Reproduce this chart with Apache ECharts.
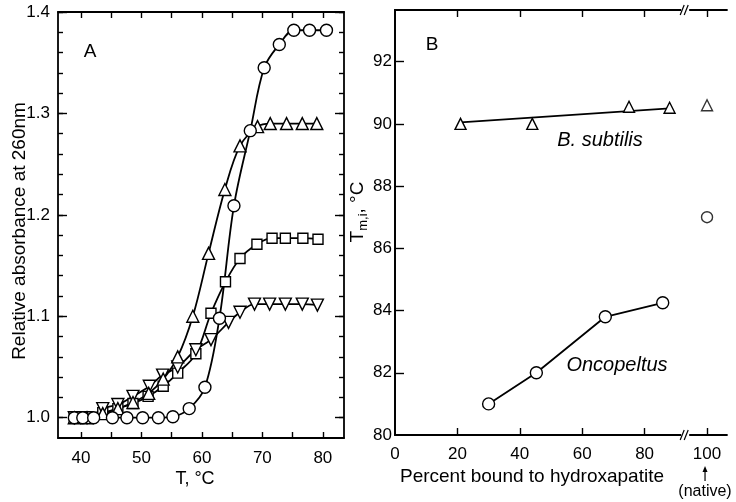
<!DOCTYPE html>
<html><head><meta charset="utf-8">
<script src="https://cdn.jsdelivr.net/npm/echarts@6/dist/echarts.min.js"></script>
<style>html,body{margin:0;padding:0;background:#fff}#c{width:736px;height:502px}</style>
</head><body><div id="c"></div>
<script>
// ---------- Panel A: relative absorbance at 260 nm vs temperature ----------
const circleT = [38.9, 40.3, 42.1, 45.2, 47.6, 50.2, 52.8, 55.2, 57.9, 60.5, 62.9, 65.3, 68.0, 70.3, 72.8, 75.2, 77.8, 80.6];
const circleA = [1.000, 1.000, 1.000, 1.000, 1.000, 1.000, 1.000, 1.001, 1.009, 1.030, 1.098, 1.209, 1.283, 1.345, 1.368, 1.382, 1.382, 1.382];

const triUpT = [38.9, 41.0, 43.6, 46.1, 48.6, 51.2, 53.6, 56.0, 58.5, 61.1, 63.8, 66.3, 69.2, 71.3, 74.0, 76.6, 79.0];
const triUpA = [1.000, 1.000, 1.004, 1.009, 1.015, 1.024, 1.038, 1.060, 1.100, 1.162, 1.225, 1.268, 1.287, 1.290, 1.290, 1.290, 1.290];

const squareT = [38.9, 43.6, 46.1, 48.6, 51.1, 53.6, 56.0, 59.0, 61.5, 63.9, 66.3, 69.1, 71.6, 73.8, 76.7, 79.2];
const squareA = [1.000, 1.005, 1.009, 1.014, 1.021, 1.031, 1.044, 1.063, 1.103, 1.134, 1.157, 1.171, 1.177, 1.177, 1.177, 1.176];

const triDownT = [38.9, 41.0, 43.6, 46.1, 48.6, 51.3, 53.5, 56.0, 59.0, 61.5, 64.4, 66.3, 68.7, 71.2, 73.8, 76.6, 79.1];
const triDownA = [1.000, 1.000, 1.009, 1.013, 1.021, 1.031, 1.042, 1.050, 1.067, 1.077, 1.094, 1.104, 1.112, 1.112, 1.112, 1.112, 1.111];

const aXTicks = [40, 45, 50, 55, 60, 65, 70, 75, 80];
const aXLabels = [40, 50, 60, 70, 80];
const aYMajor = [1.0, 1.1, 1.2, 1.3, 1.4];
const aYMinor = [1.0, 1.02, 1.04, 1.06, 1.08, 1.1, 1.12, 1.14, 1.16, 1.18, 1.2, 1.22, 1.24, 1.26, 1.28, 1.3, 1.32, 1.34, 1.36, 1.38, 1.4];

// ---------- Panel B: Tm,i vs percent bound to hydroxapatite ----------
const bsubX = [21, 44, 75, 88];
const bsubY = [90.0, 90.0, 90.55, 90.52];
const bsubFitX = [21, 88];
const bsubFitY = [90.05, 90.5];
const oncoX = [30, 45.3, 67.4, 85.8];
const oncoY = [81.0, 82.0, 83.8, 84.25];
const nativeX = [100];
const nativeBsub = [90.6];
const nativeOnco = [87.0];

const bXTicks = [20, 40, 60, 80, 100];
const bXLabels = [0, 20, 40, 60, 80, 100];
const bYTicks = [82, 84, 86, 88, 90, 92];
const bYLabels = [80, 82, 84, 86, 88, 90, 92];

const FONT = 'Liberation Sans';
const BLACK = '#000';
const zip = (xs, ys) => xs.map((x, i) => [x, ys[i]]);
const axLine = { show: true, lineStyle: { color: BLACK, width: 1.8 } };
const lbl = (vals, extra) => Object.assign({ show: true, customValues: vals, color: BLACK, fontSize: 17, fontFamily: FONT }, extra || {});
const tick = (vals, len) => ({ show: true, inside: true, length: len, customValues: vals, lineStyle: { color: BLACK, width: 1.4 } });
const noLbl = { show: false };
const symStyle = { color: '#fff', borderColor: BLACK, borderWidth: 1.4 };

function lineSeries(data, symbol, size, xi, yi, extra) {
  return Object.assign({
    type: 'line', data: data, xAxisIndex: xi, yAxisIndex: yi,
    symbol: symbol, symbolSize: size, showAllSymbol: true,
    smooth: 0.35,
    lineStyle: { color: BLACK, width: 1.8 },
    itemStyle: symStyle, z: 3
  }, extra || {});
}

const chart = echarts.init(document.getElementById('c'));
const option = {
  animation: false,
  backgroundColor: '#fff',
  textStyle: { fontFamily: FONT },
  grid: [
    { left: 58, top: 12, width: 286, height: 426 },
    { left: 395, top: 10, width: 332, height: 425 }
  ],
  xAxis: [
    { gridIndex: 0, type: 'value', min: 36.2, max: 83.5, position: 'bottom', axisLine: axLine,
      axisTick: tick(aXTicks, 6), axisLabel: lbl(aXLabels, { margin: 12 }), splitLine: { show: false } },
    { gridIndex: 0, type: 'value', min: 36.2, max: 83.5, position: 'top', axisLine: axLine,
      axisTick: tick(aXTicks, 6), axisLabel: noLbl, splitLine: { show: false } },
    { gridIndex: 1, type: 'value', min: 0, max: 106.4, position: 'bottom', axisLine: axLine,
      axisTick: tick(bXTicks, 7), axisLabel: lbl(bXLabels, { margin: 11 }), splitLine: { show: false } },
    { gridIndex: 1, type: 'value', min: 0, max: 106.4, position: 'top', axisLine: axLine,
      axisTick: tick(bXTicks, 7), axisLabel: noLbl, splitLine: { show: false } }
  ],
  yAxis: [
    { gridIndex: 0, type: 'value', min: 0.98, max: 1.4, position: 'left', axisLine: axLine,
      axisTick: tick(aYMajor, 9), axisLabel: lbl(aYMajor, { margin: 8, formatter: v => v.toFixed(1) }), splitLine: { show: false } },
    { gridIndex: 0, type: 'value', min: 0.98, max: 1.4, position: 'left', axisLine: { show: false },
      axisTick: tick(aYMinor, 5), axisLabel: noLbl, splitLine: { show: false } },
    { gridIndex: 0, type: 'value', min: 0.98, max: 1.4, position: 'right', axisLine: axLine,
      axisTick: tick(aYMajor, 9), axisLabel: noLbl, splitLine: { show: false } },
    { gridIndex: 0, type: 'value', min: 0.98, max: 1.4, position: 'right', axisLine: { show: false },
      axisTick: tick(aYMinor, 5), axisLabel: noLbl, splitLine: { show: false } },
    { gridIndex: 1, type: 'value', min: 80, max: 93.66, position: 'left', axisLine: axLine,
      axisTick: tick(bYTicks, 9), axisLabel: lbl(bYLabels, { margin: 3 }), splitLine: { show: false } },
    { gridIndex: 1, type: 'value', min: 80, max: 93.66, position: 'right', axisLine: axLine,
      axisTick: { show: false }, axisLabel: noLbl, splitLine: { show: false } }
  ],
  series: [
    lineSeries(zip(squareT, squareA), 'rect', 10, 0, 0),
    lineSeries(zip(triDownT, triDownA), 'triangle', 12, 0, 0, { symbolRotate: 180 }),
    lineSeries(zip(triUpT, triUpA), 'triangle', 12, 0, 0),
    lineSeries(zip(circleT, circleA), 'circle', 12, 0, 0),
    // panel B
    lineSeries(zip(bsubFitX, bsubFitY), 'none', 0, 2, 4, { smooth: false, z: 2 }),
    lineSeries(zip(bsubX, bsubY), 'triangle', 11, 2, 4, { lineStyle: { width: 0, opacity: 0 } }),
    lineSeries(zip(oncoX, oncoY), 'circle', 12, 2, 4, { smooth: false }),
    { type: 'scatter', xAxisIndex: 2, yAxisIndex: 4, data: zip(nativeX, nativeBsub), symbol: 'triangle', symbolSize: 11, itemStyle: symStyle },
    { type: 'scatter', xAxisIndex: 2, yAxisIndex: 4, data: zip(nativeX, nativeOnco), symbol: 'circle', symbolSize: 11, itemStyle: symStyle }
  ]
};
chart.setOption(option);

// decorations / titles
const pb0 = chart.convertToPixel({ xAxisIndex: 2, yAxisIndex: 4 }, [93, 80]);
const pbTop = chart.convertToPixel({ xAxisIndex: 2, yAxisIndex: 4 }, [93, 93.66]);
const p100 = chart.convertToPixel({ xAxisIndex: 2, yAxisIndex: 4 }, [100, 80]);
function breakMark(x, y) {
  return [
    { type: 'rect', shape: { x: x - 4, y: y - 3, width: 8, height: 6 }, style: { fill: '#fff' }, z: 100 },
    { type: 'line', shape: { x1: x - 5, y1: y + 5, x2: x - 1, y2: y - 5 }, style: { stroke: BLACK, lineWidth: 1.2 }, z: 101 },
    { type: 'line', shape: { x1: x - 1, y1: y + 5, x2: x + 3, y2: y - 5 }, style: { stroke: BLACK, lineWidth: 1.2 }, z: 101 }
  ];
}
const txt = (text, x, y, opts) => Object.assign({
  type: 'text', x: x, y: y, z: 100,
  style: Object.assign({ text: text, fill: BLACK, font: '17px "' + FONT + '"', align: 'center', verticalAlign: 'middle' }, (opts && opts.style) || {})
}, (opts && opts.el) || {});

chart.setOption({
  graphic: [].concat(
    breakMark(pb0[0], pb0[1]),
    breakMark(pbTop[0], pbTop[1]),
    [
      txt('A', 90, 52, { style: { font: '19px "' + FONT + '"' } }),
      txt('B', 432, 45, { style: { font: '19px "' + FONT + '"' } }),
      txt('T, °C', 195, 479, { style: { font: '18px "' + FONT + '"' } }),
      txt('Relative absorbance at 260nm', 20, 231, { el: { rotation: Math.PI / 2 }, style: { font: '19px "' + FONT + '"' } }),
      txt('Percent bound to hydroxapatite', 532, 477, { style: { font: '19px "' + FONT + '"' } }),
      txt('B. subtilis', 600, 140, { style: { font: 'italic 20px "' + FONT + '"' } }),
      txt('Oncopeltus', 617, 365, { style: { font: 'italic 20px "' + FONT + '"' } }),
      txt('(native)', 705, 492, { style: { font: '16px "' + FONT + '"' } }),
      { type: 'line', shape: { x1: p100[0] - 2, y1: 481, x2: p100[0] - 2, y2: 469 }, style: { stroke: BLACK, lineWidth: 1.2 }, z: 100 },
      { type: 'polygon', shape: { points: [[p100[0] - 2, 466], [p100[0] - 4.5, 472], [p100[0] + 0.5, 472]] }, style: { fill: BLACK }, z: 100 },
      { type: 'text', x: 358, y: 212, rotation: Math.PI / 2, z: 100,
        style: { text: '{t|T}{s|m,i}{t|, °C}', fill: BLACK, align: 'center', verticalAlign: 'middle',
          font: '19px "' + FONT + '"',
          rich: { t: { font: '19px "' + FONT + '", sans-serif', lineHeight: 22 },
                  s: { font: '13px "' + FONT + '", sans-serif', lineHeight: 22, padding: [10, 0, 0, 0] } } } }
    ]
  )
});
</script>
</body></html>
